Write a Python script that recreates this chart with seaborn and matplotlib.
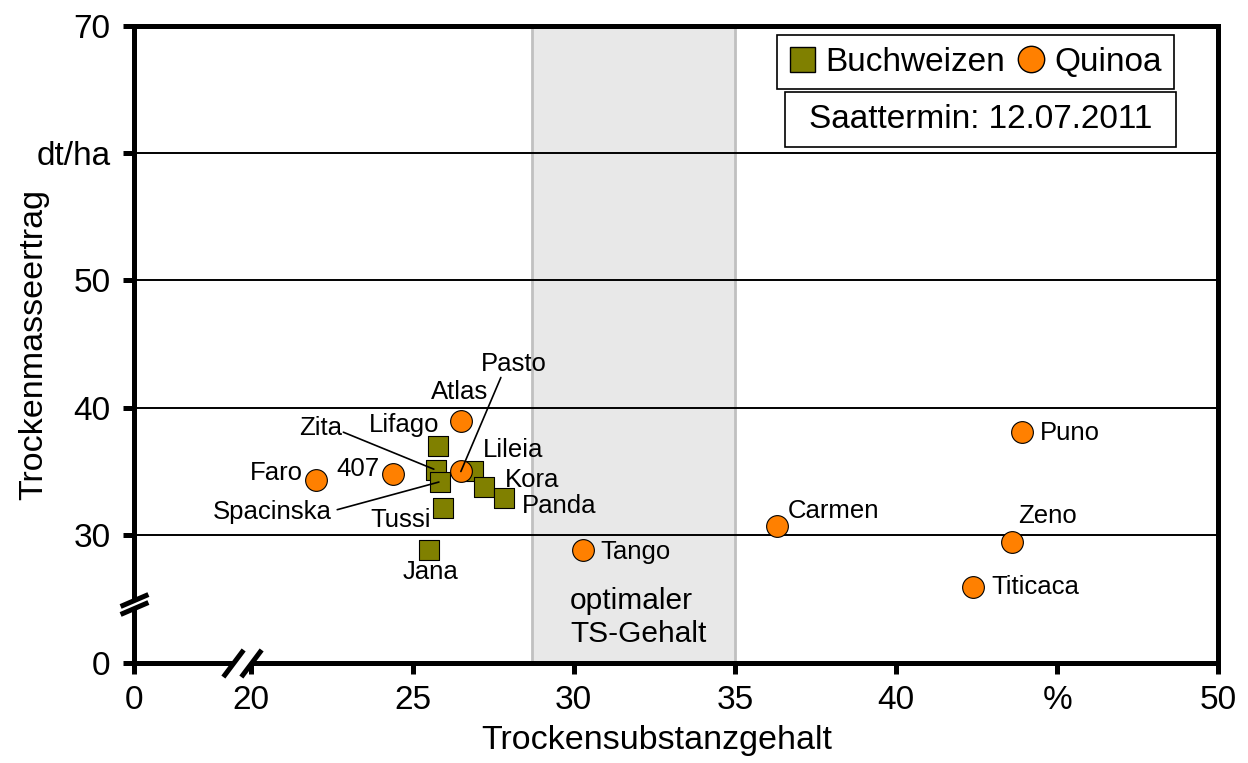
import numpy as np
import pandas as pd
import matplotlib
matplotlib.use("Agg")
import matplotlib.pyplot as plt
import seaborn as sns
from matplotlib.lines import Line2D
from matplotlib.patches import Rectangle

# ---------------- data ----------------
buch_sorten = ["Lifago", "Zita", "Spacinska", "Tussi", "Jana", "Lileia", "Kora", "Panda"]
buch_ts = [25.8, 25.74, 25.86, 25.95, 25.52, 26.88, 27.22, 27.85]
buch_tm = [37.0, 35.1, 34.2, 32.1, 28.8, 35.0, 33.8, 32.9]

quin_sorten = ["Faro", "407", "Atlas", "Pasto", "Tango", "Carmen", "Puno", "Zeno", "Titicaca"]
quin_ts = [22.0, 24.4, 26.5, 26.5, 30.3, 36.3, 43.9, 43.6, 42.4]
quin_tm = [34.3, 34.8, 39.0, 35.0, 28.8, 30.7, 38.1, 29.5, 25.9]

x_ticks = [0, 20, 25, 30, 35, 40, 45, 50]
x_ticklabels = ["0", "20", "25", "30", "35", "40", "%", "50"]
y_ticks = [0, 30, 40, 50, 60, 70]
y_ticklabels = ["0", "30", "40", "50", "dt/ha", "70"]
opt_range = [28.7, 35.0]

# ---------------- layout (label offsets in pixels) ----------------
label_layout = {
    "Lifago": (1, 14, "right"), "Zita": (-94, 35, "right"),
    "Spacinska": (-109, -37, "right"), "Tussi": (-12, -19, "right"),
    "Jana": (1, -29, "center"), "Lileia": (10, 14, "left"),
    "Kora": (21, 0, "left"), "Panda": (18, -15, "left"),
    "Faro": (-13, 0, "right"), "407": (-14, -2, "right"),
    "Atlas": (-1, 22, "center"), "Pasto": (53, 100, "center"),
    "Tango": (17, -9, "left"), "Carmen": (11, 8, "left"),
    "Puno": (18, -8, "left"), "Zeno": (6, 19, "left"),
    "Titicaca": (18, -7, "left"),
}
leader_lines = {"Zita": (-93, 38, 2), "Spacinska": (-103, -28, 1), "Pasto": (40, 94, 0)}

df = pd.DataFrame({
    "Sorte": buch_sorten + quin_sorten,
    "TS": buch_ts + quin_ts,
    "TM": buch_tm + quin_tm,
    "Art": ["Buchweizen"] * len(buch_sorten) + ["Quinoa"] * len(quin_sorten),
})

sns.set_theme(style="white")
plt.rcParams["font.family"] = ["Liberation Sans", "DejaVu Sans"]
plt.rcParams["text.color"] = "black"
plt.rcParams["axes.labelcolor"] = "black"
plt.rcParams["xtick.color"] = "black"
plt.rcParams["ytick.color"] = "black"

col_b = "#808000"
col_q = "#FF8000"

fig = plt.figure(figsize=(12.48, 7.63), dpi=100)
ax = fig.add_axes([0.1074, 0.1317, 0.8688, 0.8345])


# broken axes via function scales
def fx(x):
    x = np.asarray(x, dtype=float)
    return np.where(x >= 18, x - 16.36, x * (1.64 / 18))


def fx_inv(u):
    u = np.asarray(u, dtype=float)
    return np.where(u >= 1.64, u + 16.36, u * (18 / 1.64))


def fy(y):
    y = np.asarray(y, dtype=float)
    return np.where(y >= 24, y - 20, y / 6)


def fy_inv(u):
    u = np.asarray(u, dtype=float)
    return np.where(u >= 4, u + 20, u * 6)


ax.set_xscale("function", functions=(fx, fx_inv))
ax.set_yscale("function", functions=(fy, fy_inv))

ax.axvspan(opt_range[0], opt_range[1], facecolor="#e8e8e8", edgecolor="#c0c0c0",
           lw=2, zorder=0.2)

sns.scatterplot(data=df[df.Art == "Buchweizen"], x="TS", y="TM", marker="s", s=210,
                color=col_b, edgecolor="black", linewidth=0.8, ax=ax, zorder=3, legend=False)
sns.scatterplot(data=df[df.Art == "Quinoa"], x="TS", y="TM", marker="o", s=245,
                color=col_q, edgecolor="black", linewidth=0.8, ax=ax, zorder=3, legend=False)

for _, r in df.iterrows():
    dx, dy, ha = label_layout[r.Sorte]
    ax.annotate(r.Sorte, xy=(r.TS, r.TM), xytext=(dx, dy), textcoords="offset pixels",
                ha=ha, va="baseline", fontsize=18.5, color="black", zorder=5)
    if r.Sorte in leader_lines:
        lx, ly, sb = leader_lines[r.Sorte]
        ax.annotate("", xy=(r.TS, r.TM), xytext=(lx, ly), textcoords="offset pixels",
                    arrowprops=dict(arrowstyle="-", color="black", lw=1.2,
                                    shrinkA=0, shrinkB=sb), zorder=5)

ax.text(29.89, 25.9, "optimaler\nTS-Gehalt", ha="left", va="top", fontsize=21.5,
        linespacing=1.2, color="black", zorder=4)

ax.set_xlim(0, 50)
ax.set_ylim(0, 70)
ax.set_xticks(x_ticks)
ax.set_xticklabels(x_ticklabels)
ax.set_yticks(y_ticks)
ax.set_yticklabels(y_ticklabels)
ax.grid(axis="y", color="black", lw=1.4)
ax.grid(axis="x", visible=False)
ax.set_axisbelow(True)

for sp in ax.spines.values():
    sp.set_visible(True)
    sp.set_color("black")
    sp.set_linewidth(3.6)
ax.tick_params(axis="both", direction="out", length=8, width=3.6, color="black",
               labelsize=24, labelcolor="black")
ax.tick_params(axis="x", pad=8, bottom=True)
ax.tick_params(axis="y", pad=9, left=True)

ax.set_xlabel("Trockensubstanzgehalt", fontsize=24.5, color="black")
ax.set_ylabel("Trockenmasseertrag", fontsize=24.5, color="black")
ax.xaxis.set_label_coords(0.4823, -0.098)
ax.yaxis.set_label_coords(-0.078, 0.5)

# axis break marks
xt = ax.get_xaxis_transform()
yt = ax.get_yaxis_transform()
ax.plot([19.43, 20.0], [0, 0], color="white", lw=6, solid_capstyle="butt",
        transform=xt, clip_on=False, zorder=6)
ax.plot([19.43, 20.0], [0, 0], ls="none", marker=[(-0.6, -0.8), (0.6, 0.8)], ms=19.5,
        mew=3.6, color="black", transform=xt, clip_on=False, zorder=7)
ax.plot([0, 0], [24.26, 24.91], color="white", lw=6, solid_capstyle="butt",
        transform=yt, clip_on=False, zorder=6)
ax.plot([0, 0], [24.26, 24.91], ls="none", marker=[(-1, -0.43), (1, 0.43)], ms=20,
        mew=3.6, color="black", transform=yt, clip_on=False, zorder=7)

# legend
handles = [
    Line2D([], [], marker="s", ls="none", mfc=col_b, mec="black", ms=18, mew=1),
    Line2D([], [], marker="o", ls="none", mfc=col_q, mec="black", ms=19, mew=1),
]
leg = ax.legend(handles, ["Buchweizen", "Quinoa"], ncol=2, loc="upper right",
                bbox_to_anchor=(0.959, 0.9856), borderaxespad=0, frameon=True,
                fancybox=False, edgecolor="black", framealpha=1, fontsize=24,
                handlelength=0.8, handletextpad=0.3, columnspacing=0.4,
                borderpad=0.35, labelcolor="black")
leg.get_frame().set_linewidth(1.2)
leg.set_zorder(8)

ax.add_patch(Rectangle((0.6004, 0.8097), 0.3606, 0.0864, transform=ax.transAxes,
                       facecolor="white", edgecolor="black", lw=1.2, zorder=8))
ax.text(0.7807, 0.8528, "Saattermin: 12.07.2011", transform=ax.transAxes,
        ha="center", va="center", fontsize=24, color="black", zorder=9)

fig.savefig("out.png", dpi=100)
